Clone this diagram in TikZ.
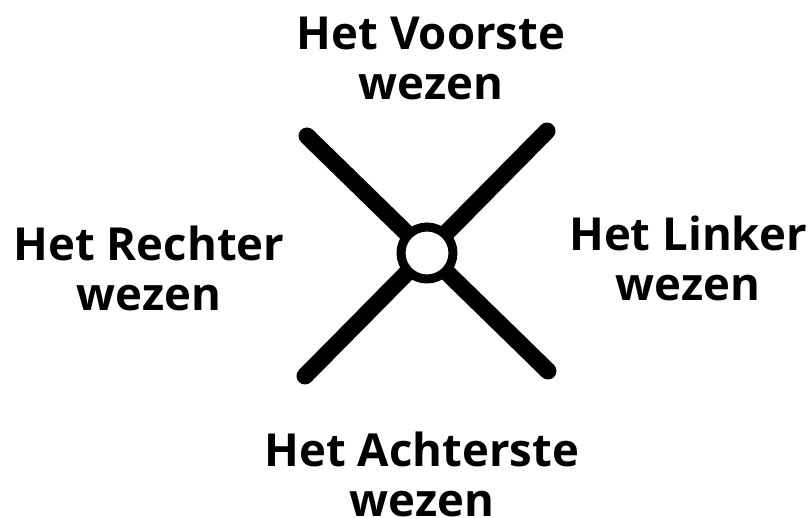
\documentclass[tikz,border=0pt]{standalone}
\usepackage{fontspec}
\setmainfont{Open Sans}
\begin{document}
\begin{tikzpicture}[x=1pt,y=-1pt,
  lbl/.style={font=\fontsize{45.5}{50}\selectfont\bfseries, align=center, inner sep=0pt},
  arm/.style={line width=17pt, line cap=round, black}]
\useasboundingbox (0,0) rectangle (812,518);
\coordinate (c) at (427,253);
\coordinate (tl) at (307,136);
\coordinate (tr) at (547,131);
\coordinate (bl) at (305,376);
\coordinate (br) at (548,371);
\draw[arm] (tl) -- (br);
\draw[arm] (tr) -- (bl);
\node[circle, fill=white, draw=black, line width=9pt, minimum size=52pt, inner sep=0pt] (hub) at (c) {};
\node[lbl] (front) at (431,58) {Het Voorste\\wezen};
\node[lbl] (right) at (149,268) {Het Rechter\\wezen};
\node[lbl] (left) at (688,258) {Het Linker\\wezen};
\node[lbl] (back) at (422,474) {Het Achterste\\wezen};
\end{tikzpicture}
\end{document}
